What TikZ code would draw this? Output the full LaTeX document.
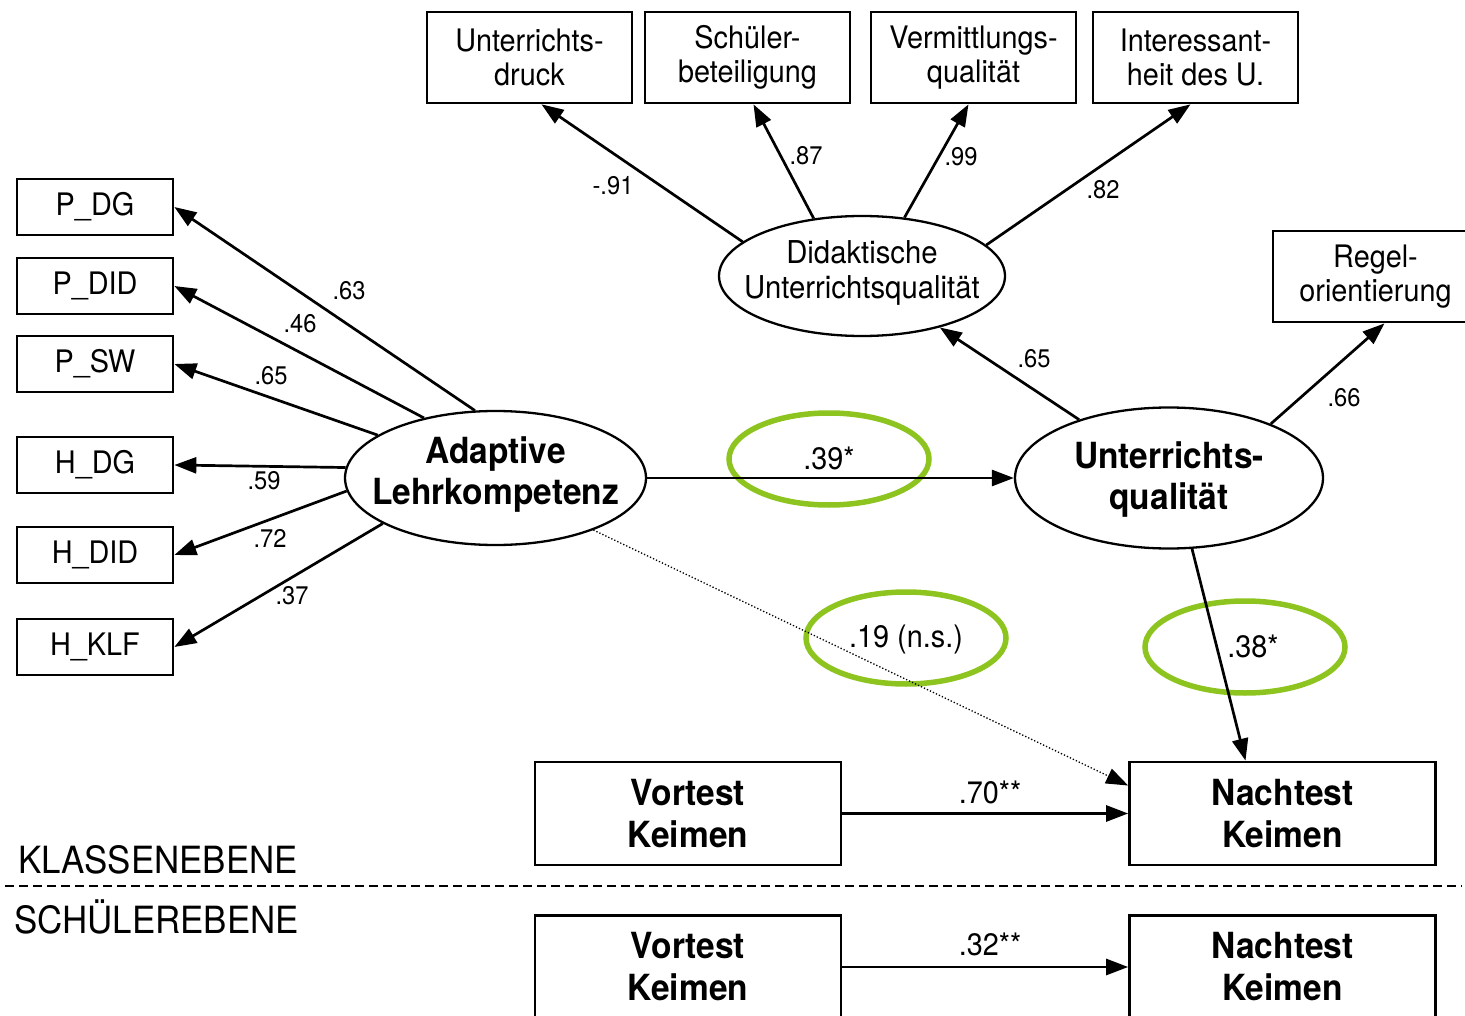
\documentclass[tikz,border=0pt]{standalone}
\usepackage{fontspec}
\setmainfont{TeX Gyre Heros}[FakeStretch=0.93]
\usetikzlibrary{shapes.geometric,arrows.meta}
\definecolor{hlgreen}{RGB}{141,196,31}
\begin{document}
\begin{tikzpicture}[x=1pt,y=-1pt,
  obs/.style={draw, line width=2.7pt, rectangle, inner sep=0pt, align=center,
    font=\fontsize{31}{34}\selectfont},
  sbox/.style={obs, minimum width=156, minimum height=56},
  tbox/.style={obs, minimum width=205, minimum height=91},
  bbox/.style={draw, line width=2.7pt, rectangle, inner sep=0pt, align=center,
    minimum width=306, minimum height=103, font=\fontsize{36}{42}\selectfont\bfseries},
  lat/.style={draw, ellipse, line width=2.3pt, inner sep=0pt},
  ltext/.style={align=center, inner sep=0pt, font=\fontsize{31.5}{35}\selectfont},
  btext/.style={align=center, inner sep=0pt, font=\fontsize{36}{41}\selectfont\bfseries},
  arr/.style={line width=2.7pt, -{Triangle[length=22pt,width=16pt]}},
  coef/.style={inner sep=0pt, font=\fontsize{25.5}{25.5}\selectfont},
  coefl/.style={inner sep=0pt, font=\fontsize{31}{31}\selectfont},
  hl/.style={draw=hlgreen, ellipse, line width=5.5pt, inner sep=0pt, minimum width=200, minimum height=92},
  lvl/.style={inner sep=0pt, anchor=base west, font=\fontsize{37.5}{37.5}\selectfont},
  sep/.style={line width=2.7pt, dash pattern=on 9pt off 5pt}
]
\clip (0,0) rectangle (1465,1016);
\useasboundingbox (0,0) rectangle (1465,1016);

% highlight ellipses (underneath)
\node[hl] (h39) at (829,459) {};
\node[hl] (h19) at (906,638) {};
\node[hl] (h38) at (1245,647) {};

% left indicator boxes
\node[sbox] (pdg)  at (95,207) {P\_DG};
\node[sbox] (pdid) at (95,286) {P\_DID};
\node[sbox] (psw)  at (95,364) {P\_SW};
\node[sbox] (hdg)  at (95,465) {H\_DG};
\node[sbox] (hdid) at (95,555) {H\_DID};
\node[sbox] (hklf) at (95,647) {H\_KLF};

% top indicator boxes
\node[tbox] (ud) at (529.5,57.5) {Unterrichts-\\druck};
\node[tbox] (sb) at (747.5,57.5) {Schüler-\\beteiligung};
\node[tbox] (vq) at (973.5,57.5) {Vermittlungs-\\qualität};
\node[tbox] (iu) at (1195.5,57.5) {Interessant-\\heit des U.};
\node[tbox] (ro) at (1375.5,276.5) {Regel-\\orientierung};

% latent variables
\node[lat, minimum width=286, minimum height=120,
  label={[ltext, yshift=3pt]center:Didaktische\\Unterrichtsqualität}] (dq) at (862,276) {};
\node[lat, minimum width=301, minimum height=134,
  label={[btext, yshift=3pt]center:Adaptive\\Lehrkompetenz}] (ad) at (495.5,478) {};
\node[lat, minimum width=308, minimum height=141,
  label={[btext, yshift=-2pt]center:Unterrichts-\\qualität}] (uq) at (1169,478) {};

% test boxes
\node[bbox] (vk1) at (688,813.5) {Vortest\\Keimen};
\node[bbox] (nk1) at (1282.5,813.5) {Nachtest\\Keimen};
\node[bbox] (vk2) at (688,967) {Vortest\\Keimen};
\node[bbox] (nk2) at (1282.5,967) {Nachtest\\Keimen};

% loadings adaptive
\draw[arr] (ad.107) -- (pdg.east);
\draw[arr] (ad.140) -- (pdid.east);
\draw[arr] (ad.160) -- (psw.east);
\draw[arr] (ad.176) -- (hdg.east);
\draw[arr] (ad.185) -- (hdid.east);
\draw[arr] (ad.202) -- (hklf.east);

% loadings didaktische
\draw[arr] (dq.164) -- ([xshift=12pt]ud.south);
\draw[arr] (dq.130) -- ([xshift=6pt]sb.south);
\draw[arr] (dq.54) -- ([xshift=-5pt]vq.south);
\draw[arr] (dq.14) -- ([xshift=-5pt]iu.south);

% UQ loadings
\draw[arr] (uq.147) -- (dq);
\draw[arr] (uq.28) -- ([xshift=9pt]ro.south);

% structural paths
\draw[arr] (ad) -- (uq);
\draw[arr] (uq.-72) -- ([xshift=-37pt]nk1.north);
\draw[line width=1.3pt, dotted, -{Triangle[length=22pt,width=16pt]}] (ad.-28) -- ([yshift=28pt]nk1.west);
\draw[arr] (vk1) -- (nk1);
\draw[arr] (vk2) -- (nk2);

% coefficients
\node[coef] (c63) at (349,291) {.63};
\node[coef] (c46) at (300,324) {.46};
\node[coef] (c65a) at (271,376) {.65};
\node[coef] (c59) at (264,481) {.59};
\node[coef] (c72) at (270,538) {.72};
\node[coef] (c37) at (292,596) {.37};
\node[coef] (c91) at (613,186) {-.91};
\node[coef] (c87) at (806,156) {.87};
\node[coef] (c99) at (961,157) {.99};
\node[coef] (c82) at (1103,190) {.82};
\node[coef] (c65b) at (1034,359) {.65};
\node[coef] (c66) at (1344,398) {.66};
\node[coefl] (c39) at (829,458) {.39*};
\node[coefl] (c19) at (906,639) {.19 (n.s.)};
\node[coefl] (c38) at (1253,646) {.38*};
\node[coefl] (c70) at (990,792) {.70**};
\node[coefl] (c32) at (990,944) {.32**};

% level separator
\coordinate (sepL) at (5,886);
\coordinate (sepR) at (1462,886);
\draw[sep] (sepL) -- (sepR);
\node[lvl] (kl) at (18,873) {KLASSENEBENE};
\node[lvl] (sl) at (14,933) {SCHÜLEREBENE};
\end{tikzpicture}
\end{document}
